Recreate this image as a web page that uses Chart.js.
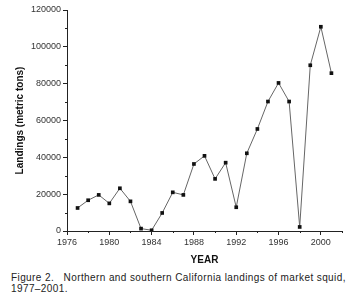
<!DOCTYPE html>
<html>
<head>
<meta charset="utf-8">
<script src="https://cdn.jsdelivr.net/npm/chart.js@4"></script>
<style>
  html, body { margin: 0; padding: 0; background: #fff; }
  #wrap { position: relative; width: 353px; height: 299px; }
  #caption {
    position: absolute; left: 11px; top: 273px; width: 342px;
    font-family: "Liberation Sans", Arial, sans-serif; font-size: 10px;
    letter-spacing: 0.4px; line-height: 10.5px; color: #222; white-space: nowrap;
  }
</style>
</head>
<body>
<div id="wrap">
  <canvas id="squidChart" width="353" height="268"></canvas>
  <div id="caption">Figure 2.&nbsp;&nbsp; Northern and southern California landings of market squid,<br>1977–2001.</div>
</div>
<script>
// Valores (toneladas métricas)
const years = [1977, 1978, 1979, 1980, 1981, 1982, 1983, 1984, 1985, 1986, 1987, 1988, 1989,
               1990, 1991, 1992, 1993, 1994, 1995, 1996, 1997, 1998, 1999, 2000, 2001];
const landings = [12500, 16700, 19600, 15000, 23200, 16100, 1300, 400, 9800, 21000, 19600, 36400, 40800,
                  28300, 37100, 12900, 42200, 55400, 70300, 80400, 70300, 2200, 90000, 110900, 85700];
const xTickYears = [1976, 1980, 1984, 1988, 1992, 1996, 2000];
const yTickValues = [0, 20000, 40000, 60000, 80000, 100000, 120000];

const fontFamily = '"Liberation Sans", Arial, sans-serif';
const axisColor = '#222';

// Marcas menores (mais curtas) entre as principais
const minorTicks = {
    id: 'minorTicks',
    afterDraw(chart) {
        const ctx = chart.ctx;
        const xs = chart.scales.x, ys = chart.scales.y;
        ctx.save();
        ctx.strokeStyle = axisColor;
        ctx.lineWidth = 1;
        ctx.beginPath();
        xs.ticks.forEach(t => {
            if (xTickYears.includes(t.value)) return;
            const px = Math.round(xs.getPixelForValue(t.value)) + 0.5;
            ctx.moveTo(px, xs.top);
            ctx.lineTo(px, xs.top + 2);
        });
        ys.ticks.forEach(t => {
            if (yTickValues.includes(t.value)) return;
            const py = Math.round(ys.getPixelForValue(t.value)) + 0.5;
            ctx.moveTo(ys.right, py);
            ctx.lineTo(ys.right - 2, py);
        });
        ctx.stroke();
        ctx.restore();
    }
};

new Chart(document.getElementById('squidChart'), {
    type: 'line',
    data: {
        datasets: [{
            data: years.map((y, i) => ({ x: y, y: landings[i] })),
            borderColor: '#666',
            borderWidth: 1,
            pointStyle: 'rect',
            pointRadius: 2.6,
            pointBackgroundColor: '#111',
            pointBorderColor: '#111',
            pointBorderWidth: 0,
            tension: 0
        }]
    },
    plugins: [minorTicks],
    options: {
        responsive: false,
        animation: false,
        layout: { padding: { top: 10, right: 11, left: 0, bottom: 0 } },
        plugins: { legend: { display: false }, tooltip: { enabled: false } },
        scales: {
            x: {
                type: 'linear',
                min: 1976,
                max: 2002,
                afterFit: function(scale) { scale.height = 37; },
                afterBuildTicks: function(scale) {
                    const t = [];
                    for (let y = 1976; y <= 2002; y += 2) t.push({ value: y });
                    scale.ticks = t;
                },
                ticks: {
                    color: '#333',
                    font: { family: fontFamily, size: 9 },
                    padding: 2,
                    maxRotation: 0,
                    autoSkip: false,
                    callback: v => xTickYears.includes(v) ? String(v) : ''
                },
                grid: {
                    drawOnChartArea: false, drawTicks: true, tickLength: 4,
                    tickColor: c => xTickYears.includes(c.tick.value) ? axisColor : 'rgba(0,0,0,0)'
                },
                border: { display: true, color: axisColor, width: 1 },
                title: {
                    display: true, text: 'YEAR', color: '#111',
                    font: { family: fontFamily, size: 10, weight: 'bold' },
                    padding: { top: 0, bottom: 2 }
                }
            },
            y: {
                min: 0,
                max: 120000,
                afterFit: function(scale) { scale.width = 67; },
                ticks: {
                    stepSize: 10000,
                    color: '#333',
                    font: { family: fontFamily, size: 9 },
                    padding: 2,
                    autoSkip: false,
                    callback: v => yTickValues.includes(v) ? String(v) : ''
                },
                grid: {
                    drawOnChartArea: false, drawTicks: true, tickLength: 4,
                    tickColor: c => yTickValues.includes(c.tick.value) ? axisColor : 'rgba(0,0,0,0)'
                },
                border: { display: true, color: axisColor, width: 1 },
                title: {
                    display: true, text: 'Landings (metric tons)', color: '#111',
                    font: { family: fontFamily, size: 10, weight: 'bold' },
                    padding: { top: 14, bottom: 0 }
                }
            }
        }
    }
});
</script>
</body>
</html>
